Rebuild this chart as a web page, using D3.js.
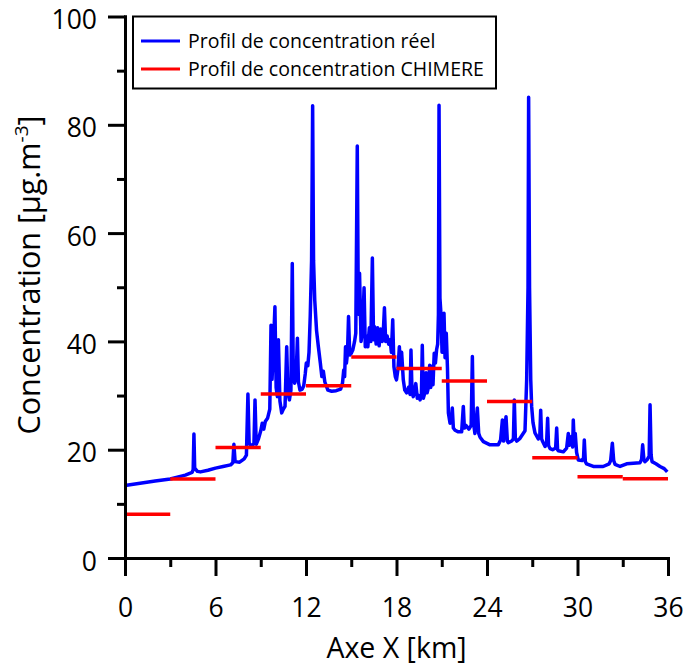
<!DOCTYPE html>
<html>
<head>
<meta charset="utf-8">
<script src="https://cdn.jsdelivr.net/npm/d3@7"></script>
<style>
  html, body { margin: 0; padding: 0; background: #fff; }
  svg { display: block; }
</style>
</head>
<body>
<svg id="chart" width="685" height="665"></svg>
<script>
// ---- data ----
const xTicksMajor = [0, 6, 12, 18, 24, 30, 36];
const xTicksMinor = [3, 9, 15, 21, 27, 33];
const yTicksMajor = [0, 20, 40, 60, 80, 100];
const yTicksMinor = [10, 30, 50, 70, 90];

const seriesNames = ["Profil de concentration réel", "Profil de concentration CHIMERE"];

// real concentration profile (km, µg.m-3)
const realX = [0.0,1.0,2.0,3.0,4.0,4.45,4.52,4.57,4.62,4.8,5.0,5.5,6.0,6.5,7.0,7.15,7.22,7.3,7.6,7.9,8.05,8.15,8.23,8.4,8.55,8.62,8.7,8.85,9.0,9.1,9.2,9.3,9.45,9.6,9.68,9.75,9.83,9.94,10.02,10.1,10.17,10.27,10.39,10.5,10.61,10.72,10.8,10.9,11.0,11.09,11.16,11.25,11.35,11.43,11.5,11.6,11.75,11.85,11.95,12.02,12.12,12.2,12.28,12.37,12.44,12.5,12.58,12.7,12.82,12.95,13.05,13.15,13.25,13.45,13.7,14.0,14.3,14.42,14.5,14.56,14.62,14.68,14.75,14.82,14.9,15.0,15.1,15.22,15.3,15.4,15.47,15.55,15.65,15.75,15.85,15.93,16.0,16.1,16.2,16.3,16.4,16.48,16.55,16.65,16.75,16.85,16.95,17.05,17.12,17.2,17.28,17.38,17.48,17.58,17.66,17.75,17.83,17.92,18.0,18.1,18.19,18.27,18.34,18.45,18.55,18.67,18.8,18.9,18.96,19.03,19.11,19.2,19.28,19.38,19.48,19.56,19.65,19.71,19.78,19.88,19.96,20.03,20.12,20.2,20.27,20.35,20.42,20.5,20.58,20.66,20.73,20.78,20.82,20.88,20.95,21.02,21.08,21.15,21.22,21.3,21.38,21.44,21.55,21.62,21.7,21.77,21.88,22.1,22.32,22.43,22.5,22.6,22.8,22.95,23.03,23.1,23.2,23.36,23.45,23.54,23.76,24.2,24.75,24.9,25.02,25.1,25.26,25.35,25.41,25.64,25.75,25.81,25.88,25.97,26.19,26.52,26.63,26.72,26.76,26.82,26.9,26.96,27.05,27.18,27.4,27.5,27.56,27.62,27.69,27.85,27.95,28.02,28.08,28.18,28.35,28.55,28.62,28.68,28.73,29.06,29.28,29.39,29.45,29.55,29.62,29.68,29.72,29.78,29.85,29.94,30.05,30.3,30.4,30.45,30.52,30.6,31.05,31.7,32.1,32.2,32.31,32.4,32.49,32.82,33.26,33.7,34.14,34.25,34.32,34.4,34.47,34.63,34.75,34.81,34.88,34.94,35.2,35.47,35.75,35.95];
const realY = [13.4,13.8,14.2,14.6,15.3,15.8,16.3,22.9,16.6,16.0,15.9,16.2,16.6,16.9,17.2,17.6,21.0,17.8,17.7,18.3,19.0,30.3,21.2,20.6,21.2,29.2,21.0,22.0,23.5,24.9,23.8,25.2,25.8,27.5,43.0,33.0,38.4,46.4,31.5,29.8,40.3,29.0,26.8,27.5,28.0,39.0,30.5,29.2,31.0,54.4,33.0,32.3,34.0,40.6,32.5,31.0,31.2,31.8,34.0,36.0,35.5,38.0,44.6,55.0,83.5,55.0,47.6,42.0,39.0,36.0,33.5,34.5,32.5,31.0,30.8,30.9,31.2,32.3,34.7,33.5,39.0,36.0,37.8,44.6,37.5,37.8,38.4,40.0,41.5,76.1,45.0,52.6,40.0,42.0,49.9,39.0,41.0,39.0,42.5,40.0,55.4,40.3,42.7,39.5,42.5,39.2,42.3,40.0,41.5,46.2,40.0,41.0,39.5,40.3,38.0,44.0,35.3,33.5,32.9,35.0,39.0,35.0,38.0,32.9,31.0,30.5,31.5,30.2,38.4,30.5,29.8,31.0,32.2,29.5,30.0,29.2,30.0,39.3,29.5,30.5,34.2,30.5,31.5,35.6,31.5,35.4,32.0,37.8,36.0,38.5,39.5,45.0,83.6,48.0,45.0,38.0,40.0,45.2,37.0,41.5,35.0,26.8,24.9,25.0,27.7,24.0,23.6,23.3,23.3,28.0,24.0,24.5,23.8,24.5,37.2,25.0,23.0,27.7,23.0,22.3,21.5,20.9,20.9,21.8,25.5,21.6,26.1,21.6,21.3,21.6,22.0,29.2,22.0,21.6,22.1,23.5,32.9,50.0,85.1,50.0,32.9,28.0,25.0,23.1,22.0,22.5,27.3,22.0,21.5,20.6,21.2,25.8,20.8,20.2,20.0,20.3,24.0,20.0,19.8,19.6,20.3,23.0,20.8,21.0,22.5,20.5,25.5,21.5,23.0,19.5,18.1,18.0,18.5,21.8,17.8,17.4,16.9,16.9,17.4,18.0,21.2,18.0,17.3,16.9,17.4,17.5,17.6,18.2,20.9,18.2,17.8,18.2,18.8,28.3,19.0,17.8,17.4,16.9,16.5,15.9];

// CHIMERE model profile: one value per 3 km cell
const chimereStart = [0, 3, 6, 9, 12, 15, 18, 21, 24, 27, 30, 33];
const chimereEnd   = [3, 6, 9, 12, 15, 18, 21, 24, 27, 30, 33, 36];
const chimereVal   = [8.1, 14.6, 20.4, 30.3, 31.8, 37.1, 35.0, 32.7, 28.9, 18.5, 15.0, 14.65];

// ---- drawing ----
const FONT = "'Open Sans', sans-serif";
const svg = d3.select("#chart");
const x = d3.scaleLinear().domain([0, 36]).range([125, 668]);
const y = d3.scaleLinear().domain([0, 100]).range([558, 16.5]);

const real = realX.map((v, i) => [v, realY[i]]);
const line = d3.line().x(d => x(d[0])).y(d => y(d[1]));

// real profile
svg.append("path").datum(real)
  .attr("d", line)
  .attr("fill", "none")
  .attr("stroke", "#0000ff")
  .attr("stroke-width", 3.5)
  .attr("stroke-linejoin", "round");

// CHIMERE segments (drawn on top)
svg.append("g").selectAll("line").data(chimereVal).join("line")
  .attr("x1", (d, i) => x(chimereStart[i]))
  .attr("x2", (d, i) => x(chimereEnd[i]))
  .attr("y1", d => y(d)).attr("y2", d => y(d))
  .attr("stroke", "#ff0000").attr("stroke-width", 3.5);

// axes
function styleAxis(g) {
  g.selectAll("path.domain").attr("stroke", "#000").attr("stroke-width", 3).attr("stroke-linecap", "square");
  g.selectAll(".tick line").attr("stroke", "#000").attr("stroke-width", 3);
  g.selectAll("text").attr("fill", "#000").style("font-family", FONT).style("font-size", "26.5px");
}

const yAxisMinor = svg.append("g").attr("transform", "translate(125,0)")
  .call(d3.axisLeft(y).tickValues(yTicksMinor).tickSize(8).tickSizeOuter(0).tickFormat(""));
styleAxis(yAxisMinor);
const yAxis = svg.append("g").attr("transform", "translate(125,0)")
  .call(d3.axisLeft(y).tickValues(yTicksMajor).tickSize(17).tickSizeOuter(0).tickPadding(11));
styleAxis(yAxis);
yAxis.selectAll("text").attr("dy", null).attr("y", 12);

const xAxisMinor = svg.append("g").attr("transform", "translate(0,558)")
  .call(d3.axisBottom(x).tickValues(xTicksMinor).tickSize(9).tickSizeOuter(0).tickFormat(""));
styleAxis(xAxisMinor);
const xAxis = svg.append("g").attr("transform", "translate(0,558)")
  .call(d3.axisBottom(x).tickValues(xTicksMajor).tickSize(18).tickSizeOuter(0));
styleAxis(xAxis);
xAxis.selectAll("text").attr("dy", null).attr("y", 59);

// axis titles
svg.append("text")
  .attr("x", 396.5).attr("y", 658)
  .attr("text-anchor", "middle")
  .style("font-family", FONT).style("font-size", "28.5px")
  .text("Axe X [km]");

const yt = svg.append("text")
  .attr("transform", "translate(40,275) rotate(-90)")
  .attr("text-anchor", "middle")
  .style("font-family", FONT).style("font-size", "30.5px");
yt.append("tspan").text("Concentration [µg.m");
yt.append("tspan").attr("dy", -12).style("font-size", "19px").text("-3");
yt.append("tspan").attr("dy", 12).text("]");

// legend
const lg = svg.append("g");
lg.append("rect").attr("x", 133).attr("y", 16.5).attr("width", 363).attr("height", 72)
  .attr("fill", "#fff").attr("stroke", "#000").attr("stroke-width", 2);
const legColors = ["#0000ff", "#ff0000"];
seriesNames.forEach((name, i) => {
  const yy = 41 + i * 28;
  lg.append("line").attr("x1", 141).attr("x2", 180).attr("y1", yy).attr("y2", yy)
    .attr("stroke", legColors[i]).attr("stroke-width", 3);
  lg.append("text").attr("x", 188).attr("y", yy + 6.5)
    .style("font-family", FONT).style("font-size", "19.5px").attr("fill", "#000")
    .text(name);
});
</script>
</body>
</html>
